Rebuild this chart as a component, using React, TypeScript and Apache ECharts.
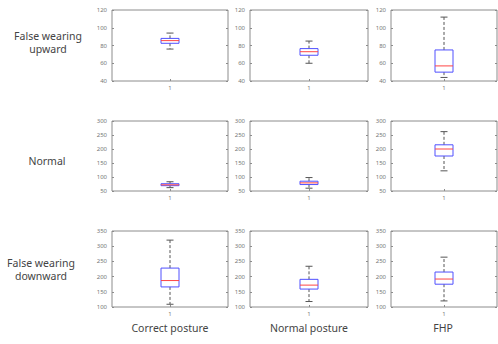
import React, { useEffect, useRef } from "react";
import * as echarts from "echarts";

// Row / column labels
const rowLabels = ["False wearing\nupward", "Normal", "False wearing\ndownward"];
const colLabels = ["Correct posture", "Normal posture", "FHP"];
const categories = ["1"];

// Box statistics: [min, q1, median, q3, max]
const upwardCorrect = [76, 82.5, 85.5, 88, 94];
const upwardNormal = [60, 69, 73, 76.5, 85];
const upwardFHP = [44, 50, 57, 75, 112];
const normalCorrect = [62, 69, 72, 76, 83];
const normalNormal = [60, 73, 79, 85, 98];
const normalFHP = [122, 175, 200, 215, 262];
const downwardCorrect = [109, 166, 187, 228, 320];
const downwardNormal = [118, 159, 172, 191, 234];
const downwardFHP = [120, 175, 192, 215, 264];

// y-axis ranges per row: [min, max, interval]
const rowAxis = [
  [40, 120, 20],
  [50, 300, 50],
  [100, 350, 50],
];

const boxes = [
  [upwardCorrect, upwardNormal, upwardFHP],
  [normalCorrect, normalNormal, normalFHP],
  [downwardCorrect, downwardNormal, downwardFHP],
];

const colLeft = [112, 250, 391];
const colWidth = [116, 118, 106];
const rowTop = [10, 121, 231];
const rowHeight = [71, 70, 76];
const rowLabelX = [48, 47, 41];
const rowLabelY = [42, 161, 269];

export default function App() {
  const ref = useRef<HTMLDivElement>(null);
  useEffect(() => {
    if (!ref.current) return;
    const chart = echarts.init(ref.current, null, { renderer: "svg" });
    const grids: any[] = [];
    const xAxes: any[] = [];
    const yAxes: any[] = [];
    const series: any[] = [];
    const graphics: any[] = [];
    const labelStyle = { fontSize: 6, color: "#777", fontFamily: "Noto Sans" };

    for (let r = 0; r < 3; r++) {
      for (let c = 0; c < 3; c++) {
        const i = r * 3 + c;
        grids.push({
          left: colLeft[c],
          top: rowTop[r],
          width: colWidth[c],
          height: rowHeight[r],
          show: true,
          borderColor: "#8c8c8c",
          borderWidth: 1,
          backgroundColor: "#fff",
        });
        xAxes.push({
          type: "category",
          gridIndex: i,
          data: categories,
          axisLine: { show: false },
          axisTick: { show: true, inside: true, length: 2, alignWithLabel: true, lineStyle: { color: "#8c8c8c" } },
          axisLabel: { ...labelStyle, margin: 4 },
          splitLine: { show: false },
        });
        const [mn, mx, iv] = rowAxis[r];
        yAxes.push({
          type: "value",
          gridIndex: i,
          min: mn,
          max: mx,
          interval: iv,
          axisLine: { show: false },
          axisTick: { show: true, inside: true, length: 2, lineStyle: { color: "#8c8c8c" } },
          axisLabel: { ...labelStyle, margin: 5 },
          splitLine: { show: false },
        });
        yAxes.push({
          type: "value",
          gridIndex: i,
          position: "right",
          min: mn,
          max: mx,
          interval: iv,
          axisLine: { show: false },
          axisTick: { show: true, inside: true, length: 2, lineStyle: { color: "#8c8c8c" } },
          axisLabel: { show: false },
          splitLine: { show: false },
        });
        const b = boxes[r][c];
        series.push({
          type: "custom",
          xAxisIndex: i,
          yAxisIndex: 2 * i,
          data: [[0, b[0], b[1], b[2], b[3], b[4]]],
          encode: { x: 0, y: [1, 2, 3, 4, 5] },
          renderItem: (params: any, api: any) => {
            const x = api.value(0);
            const pMin = api.coord([x, api.value(1)]);
            const pQ1 = api.coord([x, api.value(2)]);
            const pMed = api.coord([x, api.value(3)]);
            const pQ3 = api.coord([x, api.value(4)]);
            const pMax = api.coord([x, api.value(5)]);
            const xc = pMed[0];
            const hw = 9;
            const cw = 3.5;
            const whisk = { stroke: "#555", lineWidth: 1, lineDash: [3, 2] };
            return {
              type: "group",
              children: [
                { type: "line", shape: { x1: xc, y1: pQ3[1], x2: xc, y2: pMax[1] }, style: whisk },
                { type: "line", shape: { x1: xc, y1: pQ1[1], x2: xc, y2: pMin[1] }, style: whisk },
                { type: "line", shape: { x1: xc - cw, y1: pMax[1], x2: xc + cw, y2: pMax[1] }, style: { stroke: "#555", lineWidth: 1 } },
                { type: "line", shape: { x1: xc - cw, y1: pMin[1], x2: xc + cw, y2: pMin[1] }, style: { stroke: "#555", lineWidth: 1 } },
                {
                  type: "rect",
                  shape: { x: xc - hw, y: pQ3[1], width: 2 * hw, height: pQ1[1] - pQ3[1] },
                  style: { fill: "none", stroke: "#5050ff", lineWidth: 1 },
                },
                { type: "line", shape: { x1: xc - hw, y1: pMed[1], x2: xc + hw, y2: pMed[1] }, style: { stroke: "#ff4545", lineWidth: 1 } },
              ],
            };
          },
        });
      }
      const lines = rowLabels[r].split("\n");
      const lh = 13;
      lines.forEach((ln, k) => {
        graphics.push({
          type: "text",
          style: {
            text: ln,
            x: rowLabelX[r],
            y: rowLabelY[r] + (k - (lines.length - 1) / 2) * lh,
            textAlign: "center",
            textVerticalAlign: "middle",
            fontSize: 10.5,
            fill: "#444",
            fontFamily: "Noto Sans",
          },
        });
      });
    }
    for (let c = 0; c < 3; c++) {
      graphics.push({
        type: "text",
        style: {
          text: colLabels[c],
          x: colLeft[c] + colWidth[c] / 2 + (c === 2 ? -1 : 0),
          y: 328,
          textAlign: "center",
          textVerticalAlign: "middle",
          fontSize: 10.5,
          fill: "#444",
          fontFamily: "Noto Sans",
        },
      });
    }

    chart.setOption({
      animation: false,
      backgroundColor: "#fff",
      grid: grids,
      xAxis: xAxes,
      yAxis: yAxes,
      series,
      graphic: graphics,
    });
    return () => chart.dispose();
  }, []);
  return (
    <div
      ref={ref}
      style={{ position: "absolute", left: 0, top: 0, width: 498, height: 344 }}
    />
  );
}
